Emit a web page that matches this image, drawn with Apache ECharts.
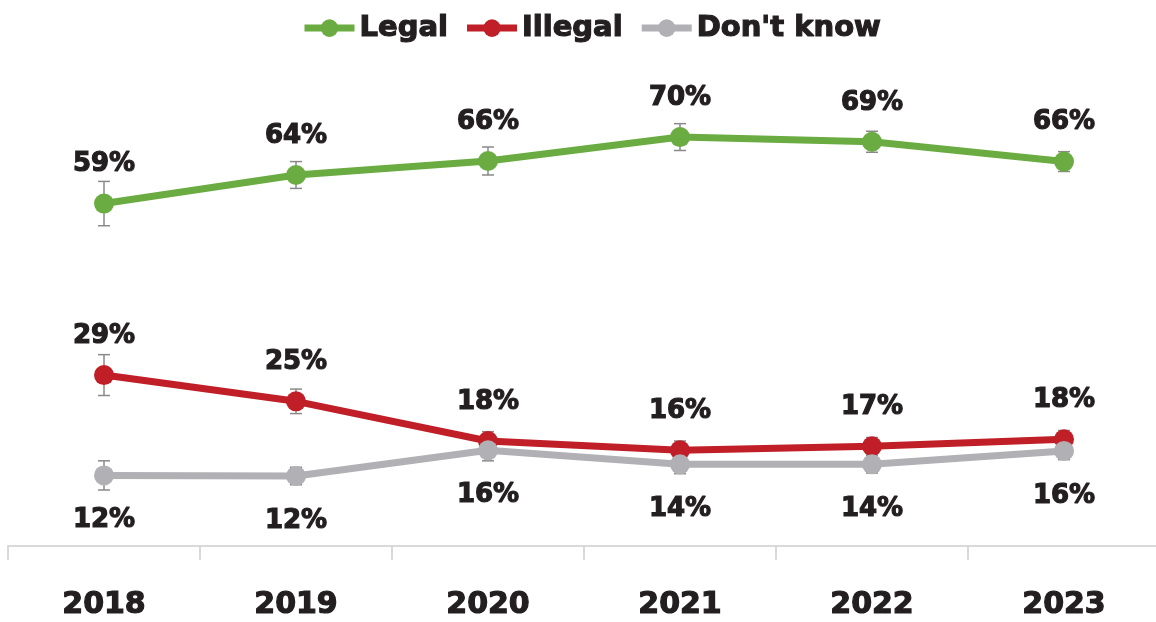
<!DOCTYPE html>
<html>
<head>
<meta charset="utf-8">
<script src="https://cdn.jsdelivr.net/npm/echarts@6/dist/echarts.min.js"></script>
<style>
  html, body { margin: 0; padding: 0; background: #fff; }
  #chart { width: 1156px; height: 622px; }
</style>
</head>
<body>
<div id="chart"></div>
<script>
// years and survey shares (%)
var years = ['2018', '2019', '2020', '2021', '2022', '2023'];
var legal = [58.7, 63.6, 66.0, 70.1, 69.3, 65.9];
var illegal = [29.3, 24.8, 18.0, 16.4, 17.1, 18.3];
var dontKnow = [12.1, 12.0, 16.4, 14.0, 14.0, 16.3];
// margin of error (+/-)
var legalErr = [3.8, 2.3, 2.4, 2.3, 1.8, 1.7];
var illegalErr = [3.5, 2.1, 1.6, 1.6, 1.5, 1.5];
var dontKnowErr = [2.5, 1.5, 1.8, 1.6, 1.5, 1.5];

var FONT = '"DejaVu Sans", sans-serif';
var INK = '#231f20';

function errData(vals, errs) {
  var out = [];
  for (var i = 0; i < vals.length; i++) {
    out.push([i, vals[i] - errs[i], vals[i] + errs[i]]);
  }
  return out;
}

function errSeries(vals, errs) {
  return {
    type: 'custom',
    z: 1,
    silent: true,
    data: errData(vals, errs),
    renderItem: function (params, api) {
      var lo = api.coord([api.value(0), api.value(1)]);
      var hi = api.coord([api.value(0), api.value(2)]);
      var w = 6;
      var st = { stroke: '#8a8a8a', lineWidth: 1.5 };
      return {
        type: 'group',
        children: [
          { type: 'line', shape: { x1: lo[0], y1: lo[1], x2: hi[0], y2: hi[1] }, style: st },
          { type: 'line', shape: { x1: lo[0] - w, y1: lo[1], x2: lo[0] + w, y2: lo[1] }, style: st },
          { type: 'line', shape: { x1: hi[0] - w, y1: hi[1], x2: hi[0] + w, y2: hi[1] }, style: st }
        ]
      };
    }
  };
}

function lineSeries(name, data, color, pos, dist) {
  return {
    name: name,
    type: 'line',
    z: 3,
    data: data,
    symbol: 'circle',
    symbolSize: 20,
    lineStyle: { width: 7, color: color },
    itemStyle: { color: color },
    label: {
      show: true,
      position: pos,
      distance: dist,
      fontFamily: FONT,
      fontWeight: 'bold',
      fontSize: 26,
      color: INK,
      textBorderColor: INK,
      textBorderWidth: 1.2,
      formatter: function (p) { return Math.round(p.value) + '%'; }
    }
  };
}

var chart = echarts.init(document.getElementById('chart'));
chart.setOption({
  animation: false,
  legend: {
    top: 8,
    left: 296,
    itemWidth: 50,
    itemHeight: 22,
    itemGap: 15,
    lineStyle: { width: 7 },
    data: ['Legal', 'Illegal', "Don't know"],
    textStyle: {
      fontFamily: FONT, fontWeight: 'bold', fontSize: 29, color: INK,
      textBorderColor: INK, textBorderWidth: 1.2
    }
  },
  grid: { left: 8, width: 1152, top: 21, bottom: 76, containLabel: false, outerBoundsMode: 'none' },
  xAxis: {
    type: 'category',
    data: years,
    boundaryGap: true,
    axisLine: { lineStyle: { color: '#d9d9d9', width: 2 } },
    axisTick: { show: true, length: 14, lineStyle: { color: '#d9d9d9', width: 2 } },
    axisLabel: {
      margin: 44,
      fontFamily: FONT,
      fontWeight: 'bold',
      fontSize: 30,
      color: INK,
      textBorderColor: INK,
      textBorderWidth: 1.2
    }
  },
  yAxis: {
    type: 'value',
    min: 0,
    max: 90,
    show: false,
    splitLine: { show: false }
  },
  series: [
    errSeries(legal, legalErr),
    errSeries(illegal, illegalErr),
    errSeries(dontKnow, dontKnowErr),
    lineSeries('Legal', legal, '#6aac41', 'top', 16),
    lineSeries('Illegal', illegal, '#c01f27', 'top', 16),
    lineSeries("Don't know", dontKnow, '#b1b1b5', 'bottom', 22)
  ]
});
</script>
</body>
</html>
